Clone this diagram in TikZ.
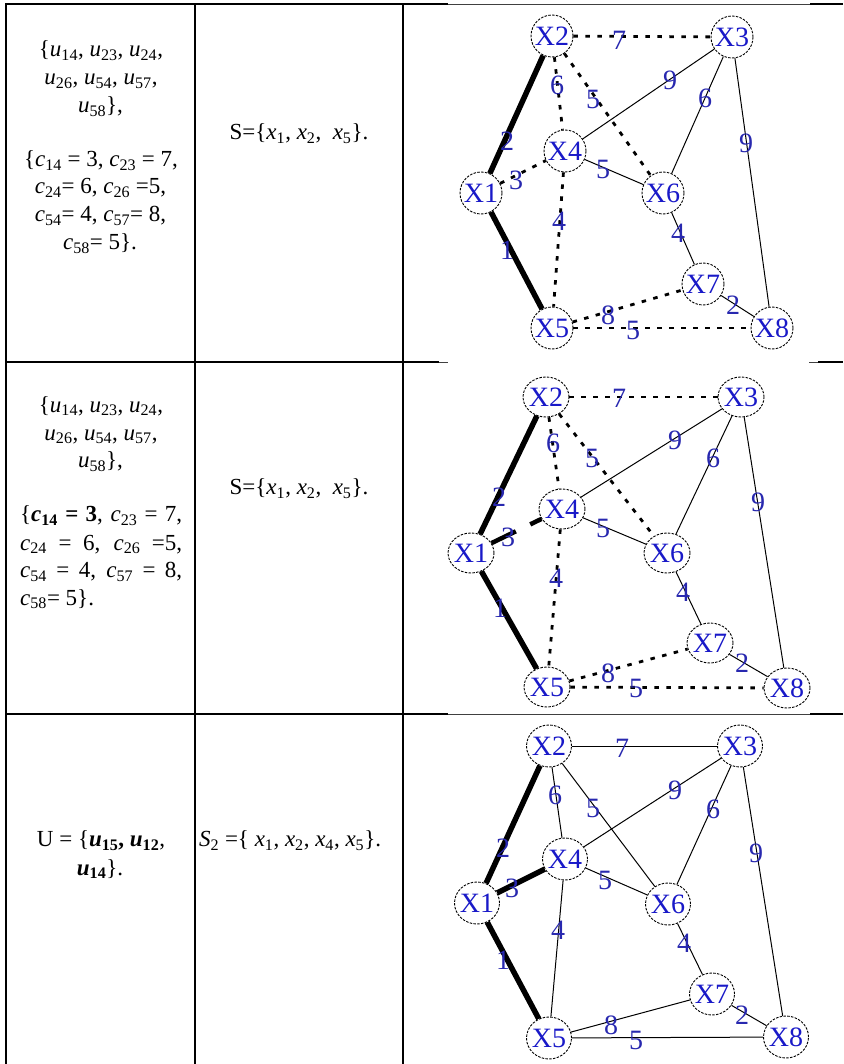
\documentclass[tikz,border=0pt]{standalone}
\usepackage{fontspec}
\setmainfont{Liberation Serif}
\usetikzlibrary{shapes.geometric,calc}
\definecolor{nodeblue}{RGB}{25,25,200}
\definecolor{lblblue}{RGB}{40,40,175}
\newcommand{\vs}[2]{\textit{#1}\textsubscript{#2}}
\newcommand{\bvs}[2]{\textbf{\textit{#1}\textsubscript{#2}}}
\tikzset{
  vtx/.style={ellipse,draw=black,line width=0.9pt,dash pattern=on 2.5pt off 1.3pt,fill=white,inner xsep=-4pt,inner ysep=-1pt,text=nodeblue,font=\fontsize{28}{28}\selectfont},
  vtxA/.style={vtx,minimum width=42pt,minimum height=42pt},
  vtxB/.style={vtx,minimum width=46pt,minimum height=40pt},
  vtxC/.style={vtx,minimum width=45pt,minimum height=42pt},
  solidedge/.style={draw=black,line width=1pt},
  dotedge/.style={draw=black,line width=2.8pt,dash pattern=on 4.5pt off 7.5pt},
  thickedge/.style={draw=black,line width=5.5pt},
  halfthick/.style={draw=black,line width=4.5pt,dash pattern=on 27pt off 16pt on 30pt},
  lbl/.style={text=lblblue,font=\fontsize{28}{28}\selectfont,inner sep=0pt},
  tabline/.style={line width=2pt,black},
  thinrule/.style={line width=0.8pt,black!75},
  cell/.style={font=\fontsize{23}{27.5}\selectfont,inner sep=0pt,anchor=base},
}
\begin{document}
\begin{tikzpicture}[x=1pt,y=-1pt]
\useasboundingbox (0,0) rectangle (843,1064);
% ---------- table rules ----------
\draw[tabline] (6,4.5) -- (448,4.5);
\draw[thinrule] (448,4.5) -- (810,4.5);
\draw[tabline] (810,4.5) -- (843,4.5);
\draw[tabline] (6,362) -- (439,362);
\draw[thinrule] (439,362) -- (448,362);
\draw[thinrule] (809,362) -- (818,362);
\draw[tabline] (818,362) -- (843,362);
\draw[tabline] (6,714) -- (448,714);
\draw[thinrule] (448,714) -- (810,714);
\draw[tabline] (810,714) -- (843,714);
\draw[tabline] (6,3.5) -- (6,1064);
\draw[tabline] (195,3.5) -- (195,1064);
\draw[tabline] (403,3.5) -- (403,1064);
% ---------- row 1 text ----------
\node[cell] (r1u1) at (101,57) {\{\vs{u}{14}, \vs{u}{23}, \vs{u}{24},};
\node[cell] (r1u2) at (101,85) {\vs{u}{26}, \vs{u}{54}, \vs{u}{57},};
\node[cell] (r1u3) at (100.5,112.7) {\vs{u}{58}\},};
\node[cell] (r1c1) at (101,166.7) {\{\vs{c}{14} = 3, \vs{c}{23} = 7,};
\node[cell] (r1c2) at (100.5,194) {\vs{c}{24}= 6, \vs{c}{26} =5,};
\node[cell] (r1c3) at (100.5,221.7) {\vs{c}{54}= 4, \vs{c}{57}= 8,};
\node[cell] (r1c4) at (100,250) {\vs{c}{58}= 5\}.};
\node[cell] (r1s) at (299,139.3) {S=\{\vs{x}{1}, \vs{x}{2}, \ \vs{x}{5}\}.};
% ---------- row 2 text ----------
\node[cell] (r2u1) at (101,412) {\{\vs{u}{14}, \vs{u}{23}, \vs{u}{24},};
\node[cell] (r2u2) at (101,440) {\vs{u}{26}, \vs{u}{54}, \vs{u}{57},};
\node[cell] (r2u3) at (100.5,467.7) {\vs{u}{58}\},};
\node[cell,anchor=base west] (r2c1) at (20,521.7) {\makebox[162pt][s]{\{\textbf{\textit{c}\textsubscript{14} = 3}, \vs{c}{23} = 7,}};
\node[cell,anchor=base west] (r2c2) at (20,550) {\makebox[162pt][s]{\vs{c}{24} = 6, \vs{c}{26} =5,}};
\node[cell,anchor=base west] (r2c3) at (20,577.7) {\makebox[162pt][s]{\vs{c}{54} = 4, \vs{c}{57} = 8,}};
\node[cell,anchor=base west] (r2c4) at (20,605) {\vs{c}{58}= 5\}.};
\node[cell] (r2s) at (299,494.3) {S=\{\vs{x}{1}, \vs{x}{2}, \ \vs{x}{5}\}.};
% ---------- row 3 text ----------
\node[cell] (r3u1) at (101,846.7) {U = \{\bvs{u}{15}\textbf{,} \bvs{u}{12},};
\node[cell] (r3u2) at (100,875) {\bvs{u}{14}\}.};
\node[cell,anchor=base west] (r3s) at (199,846.7) {\vs{S}{2} =\{ \vs{x}{1}, \vs{x}{2}, \vs{x}{4}, \vs{x}{5}\}.};
% ---------- graph 1 ----------
\node[vtxA] (a1) at (481,193) {X1};
\node[vtxA] (a2) at (552,36) {X2};
\node[vtxA] (a3) at (732,37) {X3};
\node[vtxA] (a4) at (565,151) {X4};
\node[vtxA] (a5) at (552,328) {X5};
\node[vtxA] (a6) at (663,193) {X6};
\node[vtxA] (a7) at (703,284) {X7};
\node[vtxA] (a8) at (772,328) {X8};
\draw[thickedge] (a1) -- (a2);
\draw[thickedge] (a1) -- (a5);
\draw[dotedge] (a1) -- (a4);
\draw[dotedge] (a2) -- (a3);
\draw[dotedge] (a2) -- (a4);
\draw[dotedge] (a2) -- (a6);
\draw[dotedge] (a4) -- (a5);
\draw[dotedge] (a5) -- (a7);
\draw[dotedge] (a5) -- (a8);
\draw[solidedge] (a3) -- (a4);
\draw[solidedge] (a3) -- (a6);
\draw[solidedge] (a3) -- (a8);
\draw[solidedge] (a4) -- (a6);
\draw[solidedge] (a6) -- (a7);
\draw[solidedge] (a7) -- (a8);
\node[lbl] (la23) at (619,40) {7};
\node[lbl] (la24) at (557,85) {6};
\node[lbl] (la26) at (593,99) {5};
\node[lbl] (la34) at (670,80) {9};
\node[lbl] (la36) at (705,98) {6};
\node[lbl] (la38) at (746,143) {9};
\node[lbl] (la12) at (507,141) {2};
\node[lbl] (la14) at (516,180) {3};
\node[lbl] (la46) at (603,169) {5};
\node[lbl] (la45) at (559,221) {4};
\node[lbl] (la67) at (678,233) {4};
\node[lbl] (la15) at (507,250) {1};
\node[lbl] (la57) at (608,315) {8};
\node[lbl] (la58) at (633,330) {5};
\node[lbl] (la78) at (733,305) {2};
% ---------- graph 2 ----------
\node[vtxB] (b1) at (471,553) {X1};
\node[vtxB] (b2) at (546,397) {X2};
\node[vtxB] (b3) at (741,397) {X3};
\node[vtxB] (b4) at (562,509) {X4};
\node[vtxB] (b5) at (547,687) {X5};
\node[vtxB] (b6) at (667,553) {X6};
\node[vtxB] (b7) at (710,643) {X7};
\node[vtxB] (b8) at (787,688) {X8};
\draw[thickedge] (b1) -- (b2);
\draw[thickedge] (b1) -- (b5);
\draw[halfthick] (b1) -- (b4);
\draw[dotedge] (b2) -- (b3);
\draw[dotedge] (b2) -- (b4);
\draw[dotedge] (b2) -- (b6);
\draw[dotedge] (b4) -- (b5);
\draw[dotedge] (b5) -- (b7);
\draw[dotedge] (b5) -- (b8);
\draw[solidedge] (b3) -- (b4);
\draw[solidedge] (b3) -- (b6);
\draw[solidedge] (b3) -- (b8);
\draw[solidedge] (b4) -- (b6);
\draw[solidedge] (b6) -- (b7);
\draw[solidedge] (b7) -- (b8);
\node[lbl] (lb23) at (619,398) {7};
\node[lbl] (lb24) at (553,443) {6};
\node[lbl] (lb26) at (592,458) {5};
\node[lbl] (lb34) at (675,440) {9};
\node[lbl] (lb36) at (713,458) {6};
\node[lbl] (lb38) at (758,502) {9};
\node[lbl] (lb12) at (499,497) {2};
\node[lbl] (lb14) at (508,537) {3};
\node[lbl] (lb46) at (603,528) {5};
\node[lbl] (lb45) at (556,578) {4};
\node[lbl] (lb67) at (683,592) {4};
\node[lbl] (lb15) at (500,608) {1};
\node[lbl] (lb57) at (608,673) {8};
\node[lbl] (lb58) at (636,688) {5};
\node[lbl] (lb78) at (742,663) {2};
% ---------- graph 3 ----------
\node[vtxC] (c1) at (477,903) {X1};
\node[vtxC] (c2) at (549,746) {X2};
\node[vtxC] (c3) at (740,746) {X3};
\node[vtxC] (c4) at (565,859) {X4};
\node[vtxC] (c5) at (549,1038) {X5};
\node[vtxC] (c6) at (668,904) {X6};
\node[vtxC] (c7) at (712,994) {X7};
\node[vtxC] (c8) at (786,1037) {X8};
\draw[thickedge] (c1) -- (c2);
\draw[thickedge] (c1) -- (c5);
\draw[thickedge] (c1) -- (c4);
\draw[solidedge] (c2) -- (c3);
\draw[solidedge] (c2) -- (c4);
\draw[solidedge] (c2) -- (c6);
\draw[solidedge] (c4) -- (c5);
\draw[solidedge] (c5) -- (c7);
\draw[solidedge] (c5) -- (c8);
\draw[solidedge] (c3) -- (c4);
\draw[solidedge] (c3) -- (c6);
\draw[solidedge] (c3) -- (c8);
\draw[solidedge] (c4) -- (c6);
\draw[solidedge] (c6) -- (c7);
\draw[solidedge] (c7) -- (c8);
\node[lbl] (lc23) at (622,748) {7};
\node[lbl] (lc24) at (555,795) {6};
\node[lbl] (lc26) at (593,808) {5};
\node[lbl] (lc34) at (675,790) {9};
\node[lbl] (lc36) at (713,809) {6};
\node[lbl] (lc38) at (756,853) {9};
\node[lbl] (lc12) at (503,848) {2};
\node[lbl] (lc14) at (512,888) {3};
\node[lbl] (lc46) at (605,880) {5};
\node[lbl] (lc45) at (558,930) {4};
\node[lbl] (lc67) at (684,943) {4};
\node[lbl] (lc15) at (503,960) {1};
\node[lbl] (lc57) at (611,1025) {8};
\node[lbl] (lc58) at (636,1040) {5};
\node[lbl] (lc78) at (742,1015) {2};
\end{tikzpicture}
\end{document}
